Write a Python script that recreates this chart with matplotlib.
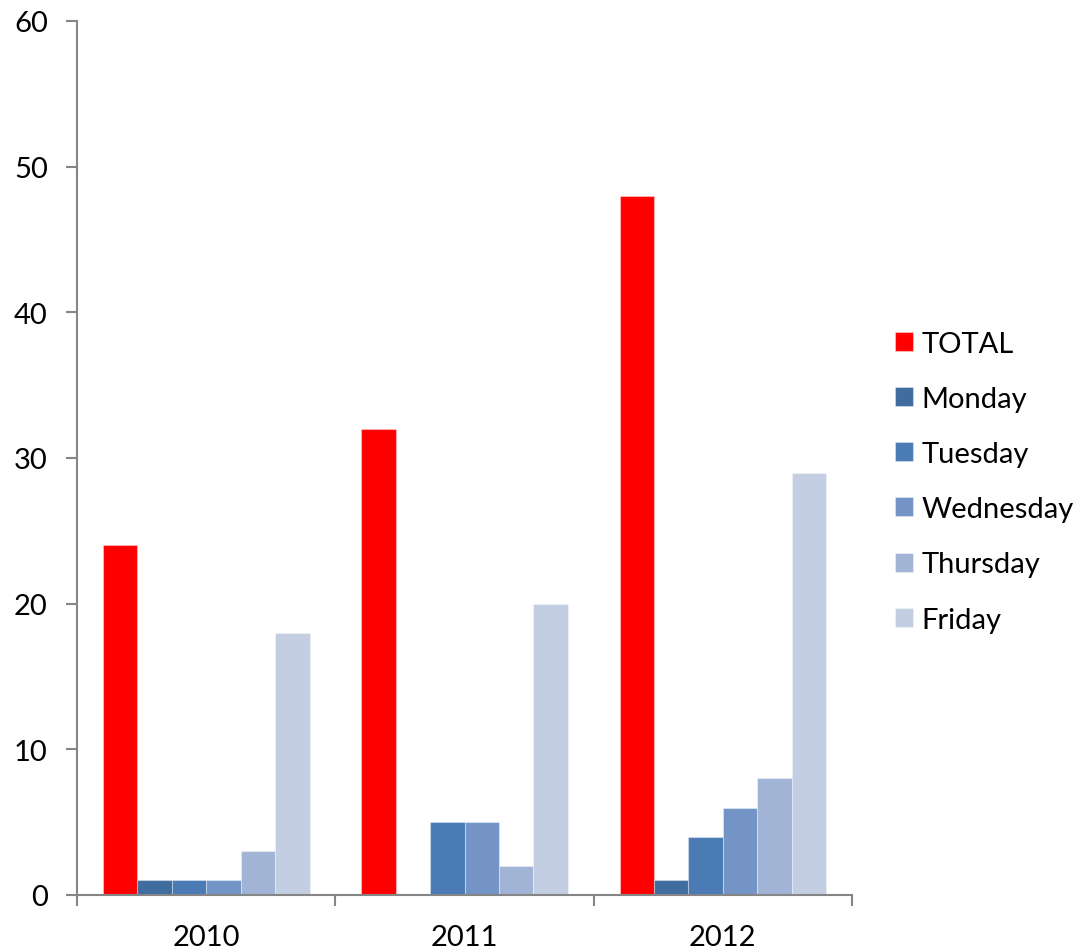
import matplotlib
matplotlib.use("Agg")
import matplotlib.pyplot as plt
import numpy as np

plt.rcParams['font.family'] = ['Lato', 'DejaVu Sans']

years = ["2010", "2011", "2012"]
series = ["TOTAL", "Monday", "Tuesday", "Wednesday", "Thursday", "Friday"]
total = [24, 32, 48]
monday = [1, 0, 1]
tuesday = [1, 5, 4]
wednesday = [1, 5, 6]
thursday = [3, 2, 8]
friday = [18, 20, 29]
values = [total, monday, tuesday, wednesday, thursday, friday]
colors = ["#FF0000", "#406C9F", "#4A7BB5", "#7394C5", "#A1B4D6", "#C3CEE3"]
yticks = [0, 10, 20, 30, 40, 50, 60]

fig = plt.figure(figsize=(10.78, 9.53), dpi=100)
ax = fig.add_axes([77/1078, 57/953, 775/1078, 874/953])

n = len(series)
bw = 1 / 7.5
x = np.arange(len(years))
for i, (name, vals, c) in enumerate(zip(series, values, colors)):
    offs = (i - (n - 1) / 2) * bw
    ax.bar(x + offs, vals, width=bw, color=c, label=name,
           edgecolor=(1, 1, 1, 0.35), linewidth=0.8)

ax.set_xlim(-0.5, len(years) - 0.5)
ax.set_ylim(0, 60)
ax.set_yticks(yticks)
ax.set_yticklabels([str(v) for v in yticks], fontsize=21)
ax.set_xticks(x)
ax.set_xticklabels(years, fontsize=21)
ax.tick_params(axis='x', length=0, pad=21)
ax.set_xticks(np.arange(len(years) + 1) - 0.5, minor=True)
ax.tick_params(axis='x', which='minor', length=8, width=1.5, color='#868686', direction='out')
ax.tick_params(axis='y', length=8, width=1.5, color='#868686', direction='out', pad=13)

for s in ['top', 'right']:
    ax.spines[s].set_visible(False)
for s in ['left', 'bottom']:
    ax.spines[s].set_color('#868686')
    ax.spines[s].set_linewidth(1.5)

leg = ax.legend(loc='center left', bbox_to_anchor=(806/775, 0.473), frameon=False,
                fontsize=21, handlelength=0.62, handleheight=0.62, handletextpad=0.3,
                labelspacing=1.0, borderaxespad=0)

fig.savefig("out.png", dpi=100, facecolor='white')
